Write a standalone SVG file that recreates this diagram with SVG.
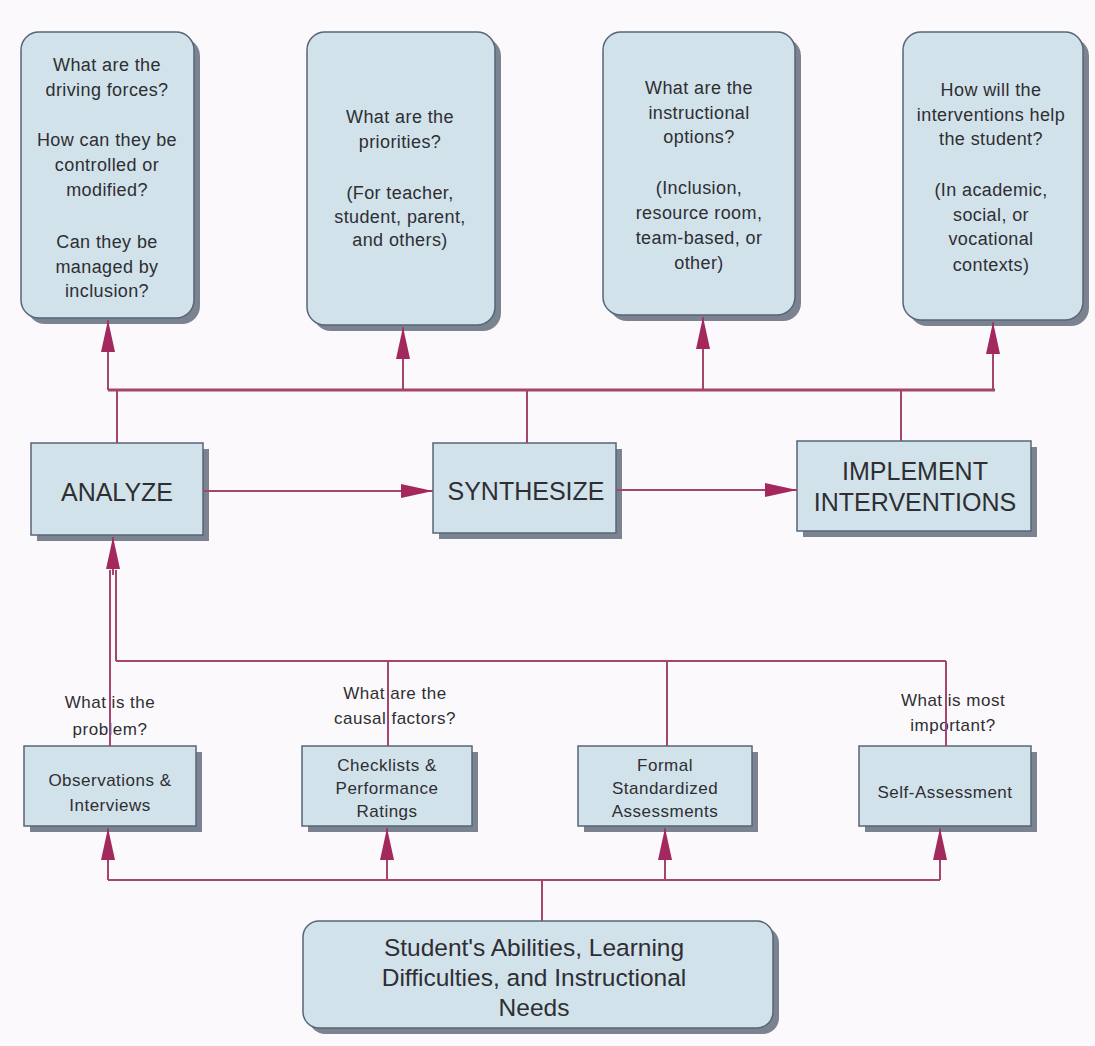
<svg xmlns="http://www.w3.org/2000/svg" width="1095" height="1046" viewBox="0 0 1095 1046">
<style>
.box{fill:#d1e2ea;stroke:#56667a;stroke-width:1.5}
.sh{fill:#7b8290}
.t{font-family:"Liberation Sans",Arial,sans-serif;fill:#2e2e33;text-anchor:middle}
.q{font-size:18px;letter-spacing:0.4px}
.s{font-size:17px;letter-spacing:0.5px}
.b{font-size:25px}
.c{fill:none;stroke:#a5446c;stroke-width:2}
.bus{fill:none;stroke:#a5446c;stroke-width:3}
</style>
<defs>
<marker id="ah" markerUnits="userSpaceOnUse" viewBox="0 0 32 14" refX="32" refY="7" markerWidth="32" markerHeight="14" orient="auto">
<path d="M0,0 L32,7 L0,14 z" fill="#a3285e"/>
</marker>
</defs>
<rect width="1095" height="1046" fill="#fbf9fb"/>

<g id="q1">
<rect class="sh" x="27" y="38" width="173" height="286" rx="18"/>
<rect class="box" x="21" y="32" width="173" height="286" rx="18"/>
<text class="t q"><tspan x="107" y="71">What are the</tspan><tspan x="107" y="96">driving forces?</tspan><tspan x="107" y="146">How can they be</tspan><tspan x="107" y="171">controlled or</tspan><tspan x="107" y="196">modified?</tspan><tspan x="107" y="248">Can they be</tspan><tspan x="107" y="273">managed by</tspan><tspan x="107" y="297">inclusion?</tspan></text>
</g>
<g id="q2">
<rect class="sh" x="313" y="38" width="188" height="293" rx="18"/>
<rect class="box" x="307" y="32" width="188" height="293" rx="18"/>
<text class="t q"><tspan x="400" y="123">What are the</tspan><tspan x="400" y="148">priorities?</tspan><tspan x="400" y="199">(For teacher,</tspan><tspan x="400" y="223">student, parent,</tspan><tspan x="400" y="246">and others)</tspan></text>
</g>
<g id="q3">
<rect class="sh" x="609" y="38" width="192" height="283" rx="18"/>
<rect class="box" x="603" y="32" width="192" height="283" rx="18"/>
<text class="t q"><tspan x="699" y="94">What are the</tspan><tspan x="699" y="119">instructional</tspan><tspan x="699" y="143">options?</tspan><tspan x="699" y="194">(Inclusion,</tspan><tspan x="699" y="219">resource room,</tspan><tspan x="699" y="244">team-based, or</tspan><tspan x="699" y="269">other)</tspan></text>
</g>
<g id="q4">
<rect class="sh" x="909" y="38" width="180" height="288" rx="18"/>
<rect class="box" x="903" y="32" width="180" height="288" rx="18"/>
<text class="t q"><tspan x="991" y="96">How will the</tspan><tspan x="991" y="121">interventions help</tspan><tspan x="991" y="145">the student?</tspan><tspan x="991" y="196">(In academic,</tspan><tspan x="991" y="221">social, or</tspan><tspan x="991" y="245">vocational</tspan><tspan x="991" y="271">contexts)</tspan></text>
</g>

<g id="analyze">
<rect class="sh" x="37" y="449" width="172" height="92"/>
<rect class="box" x="31" y="443" width="172" height="92"/>
<text class="t b" x="117" y="501">ANALYZE</text>
</g>
<g id="synthesize">
<rect class="sh" x="439" y="449" width="183" height="90"/>
<rect class="box" x="433" y="443" width="183" height="90"/>
<text class="t b" x="526" y="500">SYNTHESIZE</text>
</g>
<g id="implement">
<rect class="sh" x="803" y="447" width="234" height="90"/>
<rect class="box" x="797" y="441" width="234" height="90"/>
<text class="t b"><tspan x="915" y="480">IMPLEMENT</tspan><tspan x="915" y="511">INTERVENTIONS</tspan></text>
</g>

<g id="observations">
<rect class="sh" x="30" y="752" width="172" height="80"/>
<rect class="box" x="24" y="746" width="172" height="80"/>
<text class="t s"><tspan x="110" y="786">Observations &amp;</tspan><tspan x="110" y="811">Interviews</tspan></text>
</g>
<g id="checklists">
<rect class="sh" x="308" y="752" width="170" height="80"/>
<rect class="box" x="302" y="746" width="170" height="80"/>
<text class="t s"><tspan x="387" y="771">Checklists &amp;</tspan><tspan x="387" y="794">Performance</tspan><tspan x="387" y="817">Ratings</tspan></text>
</g>
<g id="formal">
<rect class="sh" x="584" y="752" width="174" height="80"/>
<rect class="box" x="578" y="746" width="174" height="80"/>
<text class="t s"><tspan x="665" y="771">Formal</tspan><tspan x="665" y="794">Standardized</tspan><tspan x="665" y="817">Assessments</tspan></text>
</g>
<g id="selfassessment">
<rect class="sh" x="865" y="752" width="172" height="80"/>
<rect class="box" x="859" y="746" width="172" height="80"/>
<text class="t s" x="945" y="798">Self-Assessment</text>
</g>

<g id="student">
<rect class="sh" x="309" y="927" width="470" height="107" rx="16"/>
<rect class="box" x="303" y="921" width="470" height="107" rx="16"/>
<text class="t" style="font-size:24.5px"><tspan x="534" y="956">Student's Abilities, Learning</tspan><tspan x="534" y="986">Difficulties, and Instructional</tspan><tspan x="534" y="1016">Needs</tspan></text>
</g>

<g id="labels">
<text class="t s"><tspan x="110" y="708">What is the</tspan><tspan x="110" y="735">problem?</tspan></text>
<text class="t s"><tspan x="395" y="699">What are the</tspan><tspan x="395" y="724">causal factors?</tspan></text>
<text class="t s"><tspan x="953" y="706">What is most</tspan><tspan x="953" y="731">important?</tspan></text>
</g>

<g id="connectors">
<path class="bus" d="M108,390 H995"/>
<path class="c" d="M108,390 V320" marker-end="url(#ah)"/>
<path class="c" d="M403,390 V327" marker-end="url(#ah)"/>
<path class="c" d="M703,390 V317" marker-end="url(#ah)"/>
<path class="c" d="M993,390 V322" marker-end="url(#ah)"/>
<path class="c" d="M117,390 V443"/>
<path class="c" d="M527,390 V443"/>
<path class="c" d="M901,390 V441"/>
<path class="c" d="M203,491 H433" marker-end="url(#ah)"/>
<path class="c" d="M616,490 H797" marker-end="url(#ah)"/>
<path class="c" d="M110,746 V570"/>
<path class="c" d="M116,661 V570"/>
<path class="c" d="M113,575 V537" marker-end="url(#ah)"/>
<path class="c" d="M116,661 H946"/>
<path class="c" d="M388,661 V746"/>
<path class="c" d="M667,661 V746"/>
<path class="c" d="M946,661 V746"/>
<path class="c" d="M108,880 H940"/>
<path class="c" d="M108,880 V828" marker-end="url(#ah)"/>
<path class="c" d="M387,880 V828" marker-end="url(#ah)"/>
<path class="c" d="M665,880 V828" marker-end="url(#ah)"/>
<path class="c" d="M940,880 V828" marker-end="url(#ah)"/>
<path class="c" d="M542,880 V921"/>
</g>
</svg>
